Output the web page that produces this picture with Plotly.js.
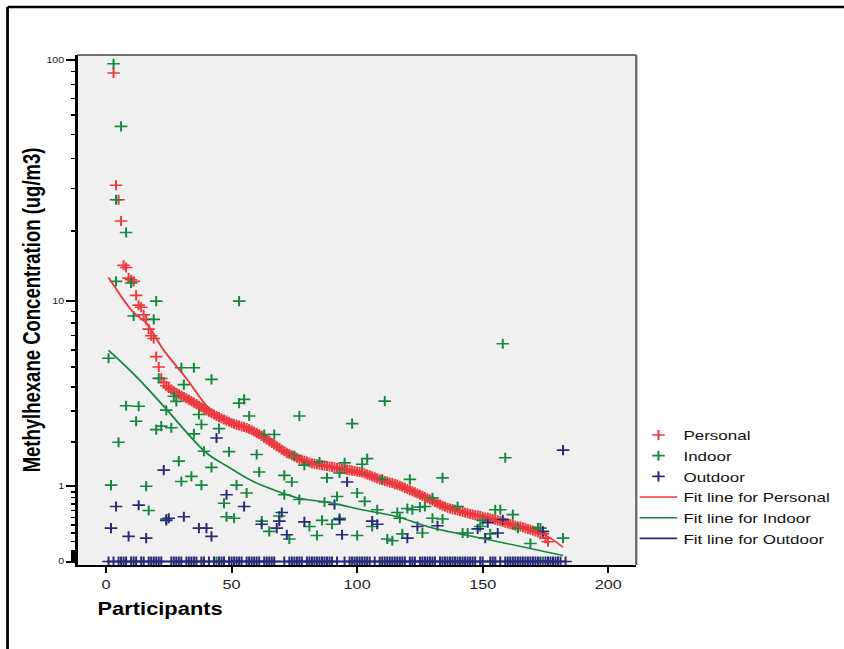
<!DOCTYPE html>
<html><head><meta charset="utf-8">
<script src="https://cdn.plot.ly/plotly-3.0.1.min.js"></script>
<style>
html,body{margin:0;padding:0;overflow:hidden;background:#fff}
#wrap{width:844px;height:649px;overflow:hidden}
#chart{width:720px;height:649px;transform:scaleX(1.25);transform-origin:0 0}
</style>
</head><body><div id="wrap"><div id="chart"></div></div>
<script>
// ---------- data (values in ug/m3) ----------
const personalFirstParticipant = 3;
const personalValues = [
 89,31,27,22,14.3,14,12.6,12.4,12.2,10.6,
 9.6,9.4,8.7,8.3,7.5,7.0,6.8,5.6,5.0,4.4,
 4.2,4.05,3.95,3.87,3.8,3.73,3.66,3.6,3.55,3.5,
 3.44,3.38,3.32,3.26,3.2,3.14,3.08,3.02,2.97,2.92,
 2.87,2.82,2.78,2.74,2.7,2.66,2.62,2.58,2.55,2.52,
 2.5,2.47,2.45,2.42,2.39,2.35,2.31,2.27,2.23,2.18,
 2.13,2.08,2.03,1.98,1.94,1.89,1.85,1.8,1.76,1.72,
 1.69,1.66,1.63,1.6,1.57,1.55,1.53,1.51,1.49,1.47,
 1.46,1.45,1.44,1.43,1.42,1.41,1.4,1.39,1.38,1.37,
 1.36,1.35,1.34,1.33,1.32,1.31,1.3,1.29,1.28,1.27,
 1.25,1.23,1.21,1.19,1.17,1.15,1.13,1.12,1.1,1.09,
 1.07,1.06,1.04,1.03,1.01,0.99,0.97,0.95,0.93,0.91,
 0.89,0.87,0.85,0.83,0.81,0.79,0.77,0.75,0.73,0.71,
 0.69,0.67,0.66,0.64,0.63,0.62,0.61,0.6,0.59,0.58,
 0.57,0.56,0.55,0.54,0.53,0.53,0.52,0.51,0.5,0.5,
 0.49,0.48,0.47,0.46,0.45,0.44,0.43,0.42,0.41,0.4,
 0.39,0.38,0.38,0.37,0.36,0.35,0.34,0.33,0.32,0.31,
 0.3,0.29,0.24,0.2
];

const indoorParticipants = [1,2,3,4,4,5,6,8,8,10,11,12,13,16,17,19,20,20,21,22,
 24,24,26,27,28,29,30,30,31,34,35,35,37,38,38,39,42,42,44,45,
 47,48,49,51,52,53,53,55,56,57,60,61,62,63,65,67,69,71,71,73,
 74,75,77,77,79,81,84,85,86,87,88,90,92,93,93,95,98,100,100,102,
 103,104,106,108,110,111,112,114,116,117,118,120,121,122,125,126,127,130,130,134,
 134,140,142,144,149,150,153,155,157,158,159,162,164,169,172,173,174,182];
const indoorValues = [5.5,1.02,97,27,12.2,2.0,54,3.2,19.7,12.0,8.6,2.64,3.18,1.0,0.6,8.3,10,2.37,4.4,2.48,
 3.03,0.48,2.43,3.58,3.37,1.52,4.96,1.09,4.1,1.19,4.96,2.24,2.87,2.53,1.02,1.76,4.35,1.38,0,2.4,
 0.71,0.51,1.75,0.49,1.02,10,3.3,3.45,0.88,2.82,1.68,1.28,0.45,2.22,0.32,2.22,0.52,1.21,0.85,0.23,
 1.08,1.65,0.77,2.82,1.43,0.38,0.27,1.5,0.46,0.73,1.16,0.41,0.82,1.26,0.49,1.48,2.56,0.88,0.27,1.45,
 0.74,1.58,0.38,0.61,1.13,3.38,0.23,0.21,0.57,0.49,0.29,0.63,1.13,0.61,0.65,0.3,0.66,0.8,0.49,1.16,
 0.48,0.66,0.3,0.3,0.38,0.46,0.29,0.61,0.61,6.43,1.6,0.54,0.36,0.18,0.36,0.36,0,0.24];

const outdoorFirstParticipant = 1;
const outdoorValues = [
 0,0.36,0,0.66,0,0,0,0,0.26,0,
 0,0,0.68,0,0,0.24,0,0,0,0,
 0,0,1.32,0.46,0.49,0,0,0,0,0,
 0.51,0,0,0,0,0,0.36,0,0,0.36,
 0,0.26,0,2.12,0,0,0,0.85,0,0,
 0,0,0,0,0.66,0,0,0,0,0,
 0,0.41,0,0,0,0,0,0.36,0.45,0.57,
 0,0.28,0,0,0,0,0,0,0.44,0,
 0,0,0,0,0,0,0,0,0,0,
 0.69,0,0.47,0.28,0,1.08,0,0,0,0,
 0,0,0,0,0,0.45,0,0.41,0,0,
 0,0,0,0,0,0,0,0,0,0.24,
 0,0,0,0.38,0,0,0,0,0,0,
 0,0.39,0,0,0,0,0,0,0,0,
 0,0,0,0,0,0,0,0.35,0,0,
 0.24,0.43,0,0,0,0.3,0,0.47,0,0,
 0,0,0,0,0,0,0,0,0,0,
 0,0,0,0.32,0,0,0,0,0,0,
 0,1.79,0
];

const fitPersonalX = [1,11,16,23,32,41,47,57,76,89,102,116,129,138,152,165,174,182];
const fitPersonalY = [12.7,8.9,8.0,6.0,4.4,3.1,2.7,2.4,1.6,1.38,1.22,0.99,0.76,0.61,0.49,0.37,0.29,0.14];
const fitIndoorX = [1,12,23,40,49,57,63,76,89,102,116,129,152,182];
const fitIndoorY = [6.0,4.5,3.18,1.72,1.38,1.13,1.0,0.80,0.72,0.61,0.51,0.37,0.225,0.057];
const fitOutdoorX = [1,183];
const fitOutdoorY = [0,0];

const yTickValues = [0,1,10,100];
const yTickLabels = ['0','1','10','100'];
const yMinorValues = [0.01,0.02,0.03,0.04,0.05,0.06,0.07,0.08,0.09,
 0.1,0.2,0.3,0.4,0.5,0.6,0.7,0.8,0.9,2,3,4,5,6,7,8,9,20,30,40,50,60,70,80,90];
const xTickValues = [0,50,100,150,200];

// ---------- scale: log10(value + 1) ----------
const tv = v => Math.log10(v + 1);
const T = arr => arr.map(tv);

const RED = '#ea3a3f', GREEN = '#17873f', NAVY = '#2a2a7a';
const FONT = 'Liberation Sans, Arial, sans-serif';

const personalX = personalValues.map((_, i) => personalFirstParticipant + i);
const outdoorX = outdoorValues.map((_, i) => outdoorFirstParticipant + i);

function markerTrace(name, x, y, color) {
  return {type:'scatter', mode:'markers', name, x, y:T(y), hoverinfo:'skip',
    marker:{symbol:'cross-thin', size:7.2, color, line:{width:1.6, color}}};
}
function fitTrace(name, x, y, color) {
  return {type:'scatter', mode:'lines', name, x, y:T(y), hoverinfo:'skip',
    line:{color, width:1.6, shape:'spline', smoothing:1}};
}

const traces = [
  markerTrace('Personal', personalX, personalValues, RED),
  markerTrace('Indoor', indoorParticipants, indoorValues, GREEN),
  markerTrace('Outdoor', outdoorX, outdoorValues, NAVY),
  fitTrace('Fit line for Personal', fitPersonalX, fitPersonalY, RED),
  fitTrace('Fit line for Indoor', fitIndoorX, fitIndoorY, GREEN),
  fitTrace('Fit line for Outdoor', fitOutdoorX, fitOutdoorY, NAVY)
];

const W = 720, ML = 62, MR = 211, MT = 55, MB = 84;
const layout = {
  width:W, height:649,
  margin:{l:ML, r:MR, t:MT, b:MB, pad:0},
  paper_bgcolor:'#ffffff', plot_bgcolor:'#f0f0f0',
  font:{family:FONT, color:'#000'},
  showlegend:true,
  legend:{x:0.995, xanchor:'left', y:0.285, yanchor:'top', font:{size:13.6, family:FONT, color:'#111'},
    bgcolor:'rgba(0,0,0,0)', itemwidth:30, tracegroupgap:0},
  xaxis:{range:[-11.35,211.15], tickmode:'array', tickvals:xTickValues, ticks:'outside', ticklen:6,
    tickwidth:1.6, tickcolor:'#000', showline:true, linecolor:'#000', linewidth:2, showgrid:false,
    zeroline:false, tickfont:{size:13, color:'#222', family:FONT}},
  yaxis:{range:[-0.014,2.026], tickmode:'array', tickvals:T(yTickValues), ticktext:yTickLabels,
    ticks:'outside', ticklen:7, tickwidth:2, tickcolor:'#000', showline:true, linecolor:'#000',
    linewidth:2, showgrid:false, zeroline:false, tickfont:{size:8.5, color:'#222', family:FONT},
    minor:{tickmode:'array', tickvals:T(yMinorValues), ticks:'outside', ticklen:3.5, tickwidth:1.5,
      tickcolor:'#000', showgrid:false}},
  shapes:[
    {type:'line', xref:'paper', yref:'paper', x0:0, x1:1, y0:1, y1:1, line:{color:'#444', width:1.5}},
    {type:'line', xref:'paper', yref:'paper', x0:1, x1:1, y0:0, y1:1, line:{color:'#666', width:1.8}},
    {type:'line', xref:'paper', yref:'paper', x0:-0.1252, x1:1.47, y0:1.0941, y1:1.0941, line:{color:'#000', width:2.5}},
    {type:'line', xref:'paper', yref:'paper', x0:-0.1252, x1:-0.1252, y0:1.0941, y1:-0.17, line:{color:'#000', width:2.2}}
  ],
  annotations:[
    {text:'<b>Methylhexane Concentration (ug/m3)</b>', xref:'paper', yref:'paper', x:-0.082, y:0.5,
      xanchor:'center', yanchor:'middle', textangle:-90, showarrow:false, font:{size:18.5, family:FONT, color:'#000'}},
    {text:'<b>Participants</b>', xref:'paper', yref:'paper', x:0.031, y:-0.0863,
      xanchor:'left', yanchor:'middle', showarrow:false, font:{size:17.5, family:FONT, color:'#000'}}
  ]
};

Plotly.newPlot('chart', traces, layout, {displayModeBar:false, staticPlot:true, responsive:false});
</script>
</body></html>
